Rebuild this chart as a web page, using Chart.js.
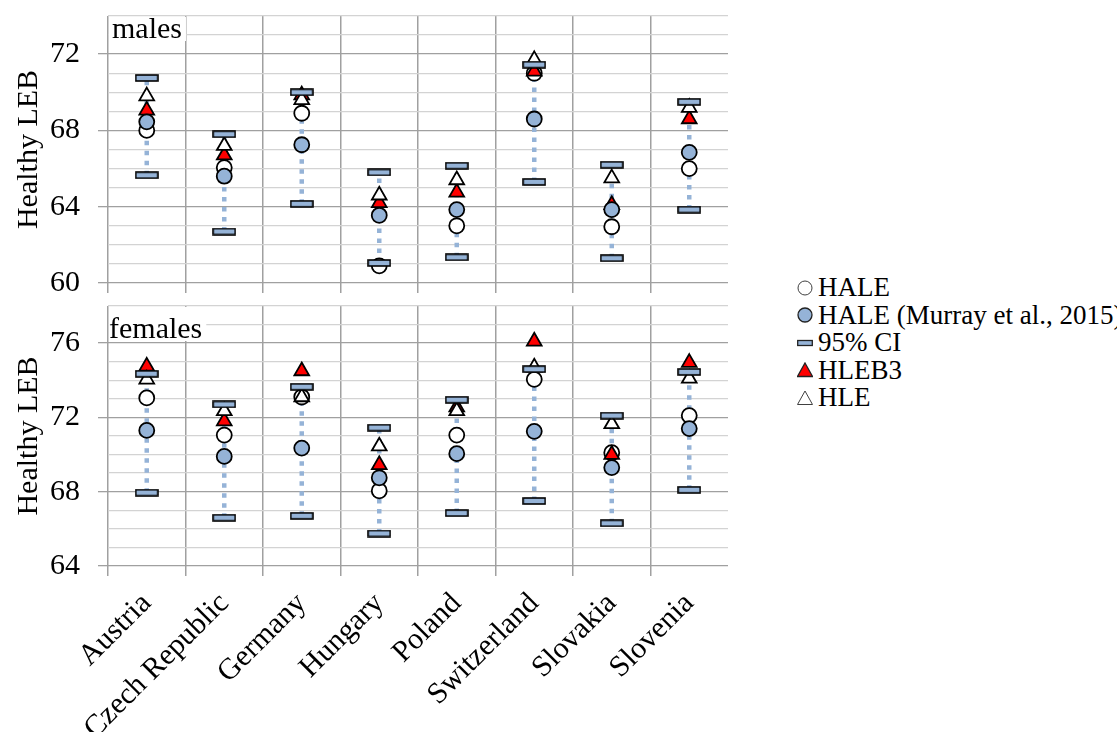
<!DOCTYPE html>
<html>
<head>
<meta charset="utf-8">
<script src="https://cdn.jsdelivr.net/npm/chart.js@4.4.1/dist/chart.umd.min.js"></script>
<style>
  body { margin: 0; width: 1117px; height: 732px; overflow: hidden; background: #fff; position: relative;
         font-family: "Liberation Serif", "Times New Roman", serif; }
  canvas { position: absolute; left: 0; }
  #malesChart { top: 0; }
  #femalesChart { top: 290px; }
  #legend { position: absolute; left: 797px; top: 274px; white-space: nowrap; font-size: 27px; color: #000; }
  .item { display: flex; align-items: center; height: 27.5px; }
  .item svg { flex: none; margin-right: 5px; }
  .item span { line-height: 27.5px; }
</style>
</head>
<body>
<canvas id="malesChart" width="740" height="300"></canvas>
<canvas id="femalesChart" width="740" height="442"></canvas>
<div id="legend"></div>
<script>
const countries = ['Austria', 'Czech Republic', 'Germany', 'Hungary', 'Poland', 'Switzerland', 'Slovakia', 'Slovenia'];

// males
const haleM       = [68.0, 66.05, 68.9, 60.9, 63.0, 71.0, 62.95, 66.0];
const haleMurrayM = [68.45, 65.6, 67.25, 63.55, 63.85, 68.6, 63.85, 66.85];
const ciLowM      = [65.65, 62.7, 64.15, 61.05, 61.35, 65.3, 61.3, 63.85];
const ciHighM     = [70.75, 67.8, 70.0, 65.8, 66.15, 71.45, 66.2, 69.5];
const hleb3M      = [69.05, 66.7, 69.85, 64.2, 64.75, 71.1, 64.1, 68.6];
const hleM        = [69.8, 67.2, 69.6, 64.6, 65.4, 71.7, 65.5, 69.2];

// females
const haleF       = [73.05, 71.05, 73.1, 68.05, 71.05, 74.05, 70.1, 72.1];
const haleMurrayF = [71.3, 69.9, 70.35, 68.75, 70.05, 71.25, 69.3, 71.4];
const ciLowF      = [67.95, 66.6, 66.7, 65.75, 66.85, 67.5, 66.3, 68.1];
const ciHighF     = [74.35, 72.7, 73.65, 71.45, 72.95, 74.6, 72.1, 74.45];
const hleb3F      = [74.75, 71.8, 74.5, 69.45, 72.55, 76.1, 70.0, 74.95];
const hleF        = [74.05, 72.35, 73.1, 70.45, 72.35, 74.7, 71.65, 74.1];

const seriesNames = ['HALE', 'HALE (Murray et al., 2015)', '95% CI', 'HLEB3', 'HLE'];

const FONT = '"Liberation Serif", "Times New Roman", serif';
const LIGHT_BLUE = '#95b3d7';
const MAJOR = '#a0a0a0';
const MINOR = '#d3d3d3';

// dash marker for the CI ends
const ciMarker = document.createElement('canvas');
ciMarker.width = 24;
ciMarker.height = 8;
(function () {
    const c = ciMarker.getContext('2d');
    c.fillStyle = LIGHT_BLUE;
    c.strokeStyle = '#000';
    c.lineWidth = 1.6;
    c.fillRect(1, 1, 22, 6);
    c.strokeRect(1, 1, 22, 6);
})();

function ciPoints(lo, hi, gaps) {
    const pts = [];
    countries.forEach((c, i) => {
        pts.push({x: c, y: lo[i]}, {x: c, y: hi[i]});
        if (gaps) pts.push({x: c, y: null});
    });
    return pts;
}

function markers(label, data, style, fill, radius, order) {
    return {
        label: label,
        data: data,
        showLine: false,
        pointStyle: style,
        pointRadius: radius,
        pointBackgroundColor: fill,
        pointBorderColor: '#000',
        pointBorderWidth: 1.8,
        order: order
    };
}

function datasets(hale, murray, lo, hi, hleb3, hle) {
    return [
        {label: 'ci-line', data: ciPoints(lo, hi, true), borderColor: LIGHT_BLUE, borderWidth: 4.5,
         borderDash: [4.5, 5.5], borderCapStyle: 'butt', pointRadius: 0, spanGaps: false, order: 5},
        markers(seriesNames[0], hale, 'circle', '#fff', 7.5, 4),
        markers(seriesNames[3], hleb3, 'triangle', '#ff0000', 8.5, 3),
        markers(seriesNames[4], hle, 'triangle', '#fff', 8.5, 2),
        markers(seriesNames[1], murray, 'circle', LIGHT_BLUE, 7.5, 1),
        {label: seriesNames[2], data: ciPoints(lo, hi, false), showLine: false, pointStyle: ciMarker,
         pointRadius: 11, order: 0}
    ];
}

const panelLabel = {
    id: 'panelLabel',
    afterDraw(chart, args, opts) {
        const {ctx, chartArea} = chart;
        ctx.save();
        ctx.font = '30px ' + FONT;
        const w = ctx.measureText(opts.text).width;
        ctx.fillStyle = '#fff';
        ctx.fillRect(chartArea.left + 1, chartArea.top + 1, opts.dx + w + 3, opts.dy + 2);
        ctx.fillStyle = '#000';
        ctx.fillText(opts.text, chartArea.left + opts.dx, chartArea.top + opts.dy);
        ctx.restore();
    }
};

function yScale(min, max) {
    const isMajor = c => c.tick && c.tick.value % 4 === 0;
    return {
        min: min,
        max: max,
        border: {display: false},
        ticks: {
            stepSize: 1, maxTicksLimit: 30, autoSkip: false, padding: 18, color: '#000',
            font: {family: FONT, size: 30, lineHeight: 1},
            callback: v => v % 4 === 0 ? v : ''
        },
        grid: {
            color: c => isMajor(c) ? MAJOR : MINOR,
            tickColor: c => isMajor(c) ? MAJOR : 'rgba(0,0,0,0)',
            lineWidth: 1.3,
            tickLength: 10
        },
        title: {display: true, text: 'Healthy LEB', color: '#000', font: {family: FONT, size: 30}, padding: {top: 11, bottom: 0}},
        afterFit: s => {
            s.width = 108;
            s.paddingTop = 0;
            s.paddingBottom = 0;
        }
    };
}

function xScale(showLabels, height) {
    const vColor = c => c.type === 'tick' ? MAJOR : 'rgba(0,0,0,0)';
    return {
        type: 'category',
        labels: countries,
        offset: true,
        border: {display: false},
        grid: {offset: true, color: vColor, tickColor: vColor, lineWidth: 1.5, tickLength: 10},
        ticks: {
            display: showLabels, autoSkip: false, minRotation: 45, maxRotation: 45, padding: 10,
            color: '#000', font: {family: FONT, size: 30}
        },
        afterFit: s => {
            s.height = height;
            s.paddingLeft = 0;
            s.paddingRight = 0;
        }
    };
}

function makeChart(id, data, yMin, yMax, label, showLabels, xHeight) {
    return new Chart(document.getElementById(id), {
        type: 'line',
        data: {labels: countries, datasets: data},
        plugins: [panelLabel],
        options: {
            responsive: false,
            animation: false,
            devicePixelRatio: 1,
            layout: {padding: {top: 16, right: 11, bottom: 0, left: 0}},
            scales: {x: xScale(showLabels, xHeight), y: yScale(yMin, yMax)},
            plugins: {
                legend: {display: false},
                tooltip: {enabled: false},
                panelLabel: label
            }
        }
    });
}

makeChart('malesChart', datasets(haleM, haleMurrayM, ciLowM, ciHighM, hleb3M, hleM), 60, 74,
    {text: 'males', dx: 4, dy: 22}, false, 17);
makeChart('femalesChart', datasets(haleF, haleMurrayF, ciLowF, ciHighF, hleb3F, hleF), 64, 78,
    {text: 'females', dx: 1, dy: 32}, true, 166);

// legend
const legendIcons = [
    '<circle cx="8" cy="8" r="7" fill="#fff" stroke="#404040" stroke-width="1"/>',
    '<circle cx="8" cy="8" r="7" fill="' + LIGHT_BLUE + '" stroke="#222" stroke-width="1.3"/>',
    '<rect x="0.7" y="5.5" width="14.6" height="5" fill="' + LIGHT_BLUE + '" stroke="#222" stroke-width="1.3"/>',
    '<polygon points="8,1 15.5,14.5 0.5,14.5" fill="#ff0000" stroke="#222" stroke-width="1.3"/>',
    '<polygon points="8,1 15.5,14.5 0.5,14.5" fill="#fff" stroke="#404040" stroke-width="1"/>'
];
document.getElementById('legend').innerHTML = seriesNames.map((name, i) =>
    '<div class="item"><svg width="16" height="16" viewBox="0 0 16 16">' + legendIcons[i] +
    '</svg><span>' + name + '</span></div>').join('');
</script>
</body>
</html>
